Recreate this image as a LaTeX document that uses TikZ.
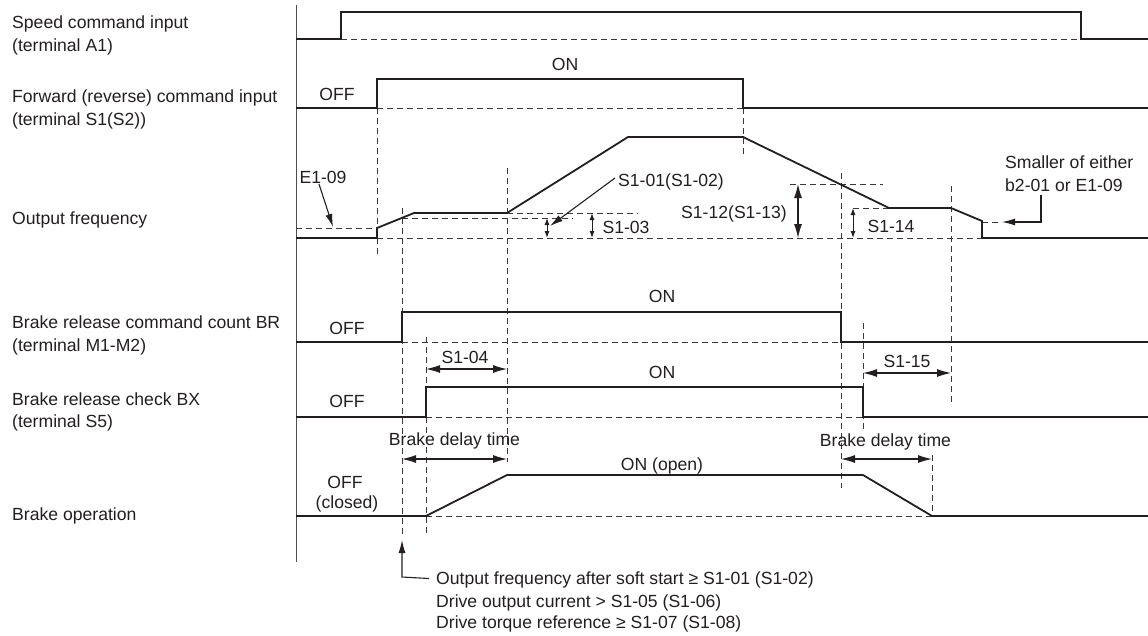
\documentclass[tikz,border=0pt]{standalone}
\usepackage{fontspec}
\setmainfont{Liberation Sans}
\usetikzlibrary{arrows.meta}
\definecolor{ink}{RGB}{35,31,32}
\definecolor{dashc}{RGB}{60,56,57}
\begin{document}
\begin{tikzpicture}[x=1pt,y=-1pt,
  wave/.style={draw=ink,line width=1.8pt,line join=miter},
  axisline/.style={draw=ink!80,line width=1pt},
  guide/.style={draw=dashc,line width=1pt,dash pattern=on 6pt off 4pt},
  lbl/.style={text=ink,font=\fontsize{17.6}{22}\selectfont,inner sep=0pt,text height=12.6pt,text depth=0pt},
  bigarrow/.style={draw=ink,line width=1.1pt,{Latex[length=14pt,width=8pt]}-{Latex[length=14pt,width=8pt]}},
  smallarrow/.style={draw=ink,line width=1pt,{Latex[length=7pt,width=5pt]}-{Latex[length=7pt,width=5pt]}},
  ptr/.style={draw=ink,line width=1.1pt,-{Latex[length=13pt,width=7pt]}},
]
\fill[white] (0,0) rectangle (1148,635);
\useasboundingbox (0,0) rectangle (1148,635);

% ---------- left labels ----------
\node[lbl,anchor=west] (l1a) at (12,22.5) {Speed command input};
\node[lbl,anchor=west] (l1b) at (12,45.5) {(terminal A1)};
\node[lbl,anchor=west] (l2a) at (12,96.5) {Forward (reverse) command input};
\node[lbl,anchor=west] (l2b) at (12,119) {(terminal S1(S2))};
\node[lbl,anchor=west] (l3a) at (12,218) {Output frequency};
\node[lbl,anchor=west] (l4a) at (12,322.5) {Brake release command count BR};
\node[lbl,anchor=west] (l4b) at (12,345.5) {(terminal M1-M2)};
\node[lbl,anchor=west] (l5a) at (12,399) {Brake release check BX};
\node[lbl,anchor=west] (l5b) at (12,421) {(terminal S5)};
\node[lbl,anchor=west] (l6a) at (12,514) {Brake operation};

% ---------- axis ----------
\draw[axisline] (296,5) -- (296,562);

% ---------- guide (dashed) verticals ----------
\draw[guide] (377,108) -- (377,256);
\draw[guide] (743,108) -- (743,154);
\draw[guide] (402,208) -- (402,537);
\draw[guide] (426,337) -- (426,536);
\draw[guide] (507,168) -- (507,462);
\draw[guide] (841,173) -- (841,488);
\draw[guide] (863,323) -- (863,432);
\draw[guide] (951,186) -- (951,406);
\draw[guide] (932,455) -- (932,516);

% ---------- row 1: speed command ----------
\draw[guide] (341,39) -- (1081,39);
\draw[wave] (296,39) -- (341,39) -- (341,12) -- (1081,12) -- (1081,39) -- (1148,39);

% ---------- row 2: forward command ----------
\draw[guide] (377,108) -- (743,108);
\draw[wave] (296,108) -- (377,108) -- (377,79) -- (743,79) -- (743,108) -- (1148,108);
\node[lbl] (off2) at (337,94) {OFF};
\node[lbl] (on2) at (565,64) {ON};

% ---------- row 3: output frequency ----------
\draw[guide] (296,228) -- (377,228);
\draw[guide] (377,238) -- (982,238);
\draw[guide] (402,218) -- (573,218);
\draw[guide] (507,213) -- (638,213);
\draw[guide] (790,184) -- (883,184);
\draw[guide] (853,208) -- (889,208);
\draw[guide] (982,222) -- (1002,222);
\draw[wave] (296,238) -- (377,238) -- (377,228) -- (414,213) -- (507,213) -- (628,137)
  -- (743,137) -- (889,208) -- (951,208) -- (982,221) -- (982,238) -- (1148,238);

\node[lbl] (e109) at (323,177.5) {E1-09};
\coordinate (e109tip) at (333,227);
\draw[ptr] ([xshift=-4pt]e109.south) -- (e109tip);

\node[lbl] (s101) at (671,180) {S1-01(S1-02)};
\coordinate (s101tip) at (550,226);
\draw[ptr] ([xshift=-3pt,yshift=2pt]s101.west) -- (s101tip);
\coordinate (s1a) at (547,218);
\coordinate (s1b) at (547,238);
\draw[smallarrow] (s1a) -- (s1b);

\coordinate (s103a) at (592,213);
\coordinate (s103b) at (592,238);
\draw[smallarrow] (s103a) -- (s103b);
\node[lbl] (s103) at (626,227.5) {S1-03};

\node[lbl] (s112) at (734,212.5) {S1-12(S1-13)};
\coordinate (s112a) at (798,184);
\coordinate (s112b) at (798,238);
\draw[bigarrow] (s112a) -- (s112b);

\coordinate (s114a) at (853,208);
\coordinate (s114b) at (853,238);
\draw[smallarrow] (s114a) -- (s114b);
\node[lbl] (s114) at (891,226) {S1-14};

\node[lbl,anchor=west] (sm1) at (1005,162) {Smaller of either};
\node[lbl,anchor=west] (sm2) at (1005,185) {b2-01 or E1-09};
\coordinate (smstart) at (1041,195);
\coordinate (smtip) at (1002,222);
\draw[ptr] (smstart) |- (smtip);

% ---------- row 4: BR ----------
\draw[guide] (402,342) -- (841,342);
\draw[wave] (296,342) -- (402,342) -- (402,312) -- (841,312) -- (841,342) -- (1148,342);
\node[lbl] (off4) at (347,328.5) {OFF};
\node[lbl] (on4) at (662,296.5) {ON};

% ---------- row 5: BX ----------
\draw[guide] (426,417) -- (863,417);
\draw[wave] (296,417) -- (426,417) -- (426,387) -- (863,387) -- (863,417) -- (1148,417);
\node[lbl] (off5) at (347,401) {OFF};
\node[lbl] (on5) at (662,372.5) {ON};

\coordinate (s104a) at (426,369);
\coordinate (s104b) at (507,369);
\draw[bigarrow] (s104a) -- (s104b);
\node[lbl] (s104) at (465,357.5) {S1-04};

\coordinate (s115a) at (863,373);
\coordinate (s115b) at (951,373);
\draw[bigarrow] (s115a) -- (s115b);
\node[lbl] (s115) at (907,361.5) {S1-15};

% ---------- row 6: brake operation ----------
\draw[guide] (426,516) -- (932,516);
\draw[wave] (296,516) -- (426,516) -- (507,475) -- (863,475) -- (932,516) -- (1148,516);
\node[lbl] (off6a) at (345,482) {OFF};
\node[lbl] (off6b) at (347,502) {(closed)};
\node[lbl] (on6) at (662,464) {ON (open)};

\node[lbl] (bd1) at (454.5,439) {Brake delay time};
\coordinate (bd1a) at (402,459);
\coordinate (bd1b) at (507,459);
\draw[bigarrow] (bd1a) -- (bd1b);

\node[lbl] (bd2) at (885.5,440) {Brake delay time};
\coordinate (bd2a) at (841,459);
\coordinate (bd2b) at (932,459);
\draw[bigarrow] (bd2a) -- (bd2b);

% ---------- bottom note ----------
\node[lbl,anchor=west] (n1) at (436,578.5) {Output frequency after soft start ≥ S1-01 (S1-02)};
\node[lbl,anchor=west] (n2) at (436,601) {Drive output current > S1-05 (S1-06)};
\node[lbl,anchor=west] (n3) at (436,622.5) {Drive torque reference ≥ S1-07 (S1-08)};
\coordinate (ntip) at (402,540);
\coordinate (ncorner) at (402,577);
\draw[ptr] ([xshift=-7pt]n1.west) -- (ncorner) -- (ntip);
\end{tikzpicture}
\end{document}
